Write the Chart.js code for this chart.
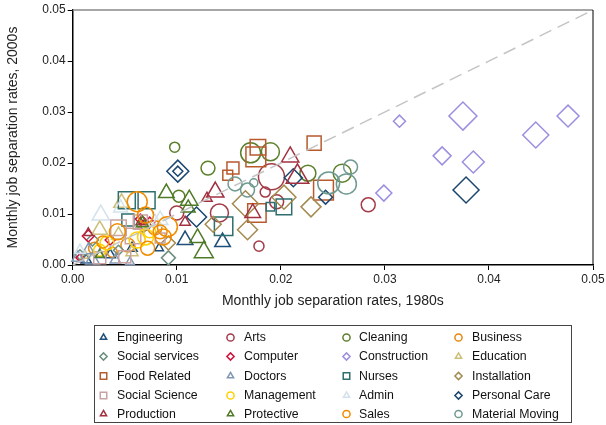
<!DOCTYPE html>
<html><head><meta charset="utf-8">
<script src="https://cdn.jsdelivr.net/npm/chart.js@4/dist/chart.umd.min.js"></script>
<style>html,body{margin:0;padding:0;background:#fff}#wrap{width:606px;height:425px}</style>
</head><body><div id="wrap"><canvas id="c" width="606" height="425"></canvas></div>
<script>
// Tick labels
const xTicks = [0, 0.01, 0.02, 0.03, 0.04, 0.05];
const yTicks = [0, 0.01, 0.02, 0.03, 0.04, 0.05];
// Legend order (row-wise, 4 columns)
const categories = ['Engineering','Arts','Cleaning','Business','Social services','Computer','Construction','Education','Food Related','Doctors','Nurses','Installation','Social Science','Management','Admin','Personal Care','Production','Protective','Sales','Material Moving'];

// Each point: [rate 1980s, rate 2000s, employment weight]
const engineering = [[.0108,.0049,9],[.0144,.0045,9],[.0083,.0033,2.8],[.0057,.0033,4],[.0036,.0020,4],[.0013,.0010,4]];
const arts = [[.0191,.0173,18.8],[.0185,.0143,2.8],[.0196,.0124,5.4],[.0141,.0102,9],[.0100,.0102,5.4],[.0179,.0037,2.8],[.0284,.0118,5.4],[.0070,.0078,2.8]];
const cleaning = [[.0098,.0231,2.8],[.0130,.0190,5.4],[.0171,.0220,11.1],[.0190,.0222,9],[.0226,.0180,7.1],[.0259,.0180,9],[.0102,.0135,4]];
const business = [[.0053,.0039,5.4],[.0021,.0033,4],[.0079,.0073,5.4],[.0038,.0025,2.8]];
const socialServices = [[.0092,.0014,5.4],[.0019,.0049,4],[.0044,.0029,2.8],[.0007,.0020,2.8]];
const computer = [[.0015,.0057,4],[.0065,.0090,2.8],[.0074,.0084,2.8],[.0036,.0049,2.8],[.0007,.0014,1.8]];
const construction = [[.0375,.0292,21.8],[.0476,.0292,13.4],[.0445,.0255,18.8],[.0355,.0214,9],[.0385,.0202,13.4],[.0314,.0282,4],[.0299,.0141,7.1]];
const education = [[.0047,.0122,9],[.0026,.0069,9],[.0044,.0059,7.1],[.0057,.0025,5.4],[.0012,.0018,2.8]];
const foodRelated = [[.0178,.0231,13.4],[.0176,.0212,21.8],[.0154,.0190,8],[.0149,.0176,5.4],[.0232,.0239,11],[.0241,.0147,21.8],[.0177,.0102,18.8]];
const doctors = [[.0005,.0014,5.4],[.0019,.0010,7.1],[.0015,.0029,5.4],[.0041,.0010,4],[.0055,.0006,2.8],[.0026,.0020,4]];
const nurses = [[.0052,.0127,16],[.0071,.0127,16],[.0053,.0088,8],[.0145,.0076,18.8],[.0190,.0114,4],[.0203,.0114,13.4]];
const installation = [[.0092,.0043,5.4],[.0135,.0080,7.1],[.0166,.0120,18.8],[.0203,.0133,16],[.0168,.0069,11.1],[.0229,.0114,11.1],[.0068,.0073,2.8]];
const socialScience = [[.0044,.0073,13.4],[.0065,.0084,11],[.0058,.0057,13.4],[.0050,.0016,8],[.0026,.0014,8],[.0084,.0053,5.4]];
const management = [[.0033,.0043,5.4],[.0062,.0049,7.1],[.0070,.0055,7.1],[.0074,.0065,4],[.0026,.0029,4]];
const admin = [[.0027,.0098,11.1],[.0046,.0112,7.1],[.0084,.0088,9],[.0079,.0084,7.1],[.0007,.0029,4]];
const personalCare = [[.0101,.0184,13.4],[.0101,.0184,2.8],[.0212,.0171,9],[.0243,.0133,5.4],[.0119,.0094,11.1],[.0378,.0147,18.8]];
const production = [[.0209,.0212,11.1],[.0216,.0173,18.8],[.0137,.0143,11.1],[.0129,.0131,4],[.0173,.0102,9],[.0108,.0084,4],[.0015,.0063,2.8],[.0065,.0084,2.8]];
const protective = [[.0090,.0141,9],[.0112,.0127,11.1],[.0120,.0053,9],[.0126,.0025,13.4],[.0067,.0082,5.4],[.0026,.0020,2.8],[.0111,.0112,7.1]];
const sales = [[.0062,.0124,11.1],[.0070,.0098,7.1],[.0043,.0065,7.1],[.0029,.0045,4],[.0072,.0033,5.4],[.0087,.0055,7.1],[.0091,.0075,11.1],[.0084,.0065,5.4]];
const materialMoving = [[.0267,.0192,5.4],[.0263,.0159,11.1],[.0246,.0161,13.4],[.0156,.0159,5.4],[.0168,.0147,5.4],[.0174,.0161,1.8]];

const seriesData = [engineering, arts, cleaning, business, socialServices, computer, construction, education, foodRelated, doctors, nurses, installation, socialScience, management, admin, personalCare, production, protective, sales, materialMoving];

// Styles (kept apart from data)
const styles = [
  ['triangle','#1f4e79'],['circle','#a33a47'],['circle','#5c7f2c'],['circle','#e8860f'],
  ['rectRot','#6d8f80'],['rectRot','#d0113b'],['rectRot','#9b8fe0'],['triangle','#cdbf7a'],
  ['rect','#b85a2e'],['triangle','#8096b5'],['rect','#2f6e6e'],['rectRot','#a38a4f'],
  ['rect','#c9a3a3'],['circle','#ffd000'],['triangle','#d3e2ec'],['rectRot','#1b466e'],
  ['triangle','#a3303f'],['triangle','#4f7a26'],['circle','#f08c00'],['circle','#6f9a90']
];
const radiusOf = (w) => 3 * Math.sqrt(w);

const FONT = 'Liberation Sans, Arial, Helvetica, sans-serif';

const datasets = [{
  type: 'line',
  data: [{x: xTicks[0], y: yTicks[0]}, {x: xTicks[xTicks.length-1], y: yTicks[yTicks.length-1]}],
  borderColor: '#c4c4c4', borderWidth: 1.5, borderDash: [13, 7],
  pointRadius: 0, order: -100, clip: false
}];
categories.forEach((name, i) => {
  const [ps, col] = styles[i];
  datasets.push({
    label: name,
    data: seriesData[i].map(p => ({x: p[0], y: p[1]})),
    pointRadius: seriesData[i].map(p => radiusOf(p[2])),
    pointHoverRadius: seriesData[i].map(p => radiusOf(p[2])),
    pointStyle: ps,
    borderColor: col, backgroundColor: 'rgba(0,0,0,0)',
    borderWidth: 1.5, pointBorderWidth: 1.5,
    order: -i, clip: false
  });
});

const framePlugin = {
  id: 'frame',
  afterDraw(chart) {
    const {ctx, chartArea: a} = chart;
    ctx.save();
    ctx.strokeStyle = '#888'; ctx.lineWidth = 1.5;
    ctx.beginPath(); ctx.moveTo(a.left, a.top); ctx.lineTo(a.right, a.top); ctx.stroke();
    ctx.strokeStyle = '#000'; ctx.lineWidth = 1;
    ctx.beginPath(); ctx.moveTo(a.right, a.top); ctx.lineTo(a.right, a.bottom); ctx.stroke();
    // legend
    const bx = 94.5, by = 325, bw = 477, bh = 97;
    ctx.strokeStyle = '#444'; ctx.lineWidth = 1;
    ctx.strokeRect(bx, by + 0.5, bw, bh);
    const colM = [103.5, 230.5, 346.5, 458.5], colT = [117, 244, 359, 472];
    const rowY = [337.5, 356.5, 376, 395.5, 414];
    ctx.font = '12.3px ' + FONT; ctx.textBaseline = 'middle';
    categories.forEach((name, i) => {
      const c = i % 4, r = Math.floor(i / 4);
      const [ps, col] = styles[i];
      ctx.strokeStyle = col; ctx.fillStyle = 'rgba(0,0,0,0)'; ctx.lineWidth = 1.5;
      Chart.helpers.drawPoint(ctx, {pointStyle: ps, radius: ps === 'rect' ? 4.6 : 3.6, rotation: 0, borderWidth: 1.5}, colM[c], rowY[r]);
      ctx.fillStyle = '#111';
      ctx.fillText(name, colT[c], rowY[r] + 0.5);
    });
    ctx.restore();
  }
};

new Chart(document.getElementById('c'), {
  type: 'scatter',
  data: {datasets},
  plugins: [framePlugin],
  options: {
    responsive: false, animation: false,
    layout: {autoPadding: false, padding: {left: 0, top: 10, right: 13, bottom: 115}},
    plugins: {legend: {display: false}, tooltip: {enabled: false}},
    scales: {
      x: {
        type: 'linear', min: 0, max: 0.05,
        afterBuildTicks: s => { s.ticks = xTicks.map(v => ({value: v})); },
        afterFit: s => { s.height = 45; s.paddingLeft = 0; s.paddingRight = 0; },
        ticks: {callback: v => v.toFixed(2), font: {family: FONT, size: 12}, color: '#222', padding: 2, maxRotation: 0},
        grid: {drawOnChartArea: false, drawTicks: true, tickLength: 5, color: '#000', tickWidth: 1},
        border: {display: true, color: '#000', width: 1.5},
        title: {display: true, text: 'Monthly job separation rates, 1980s', font: {family: FONT, size: 14}, color: '#222', padding: {top: 4, bottom: 0}}
      },
      y: {
        type: 'linear', min: 0, max: 0.05,
        afterBuildTicks: s => { s.ticks = yTicks.map(v => ({value: v})); },
        afterFit: s => { s.width = 72.7; s.paddingTop = 0; s.paddingBottom = 0; },
        ticks: {callback: v => v.toFixed(2), font: {family: FONT, size: 12}, color: '#222', padding: 2},
        grid: {drawOnChartArea: false, drawTicks: true, tickLength: 5, color: '#000', tickWidth: 1},
        border: {display: true, color: '#000', width: 1.5},
        title: {display: true, text: 'Monthly job separation rates, 2000s', font: {family: FONT, size: 14}, color: '#222', padding: {top: 5, bottom: 2}}
      }
    }
  }
});
</script></body></html>
